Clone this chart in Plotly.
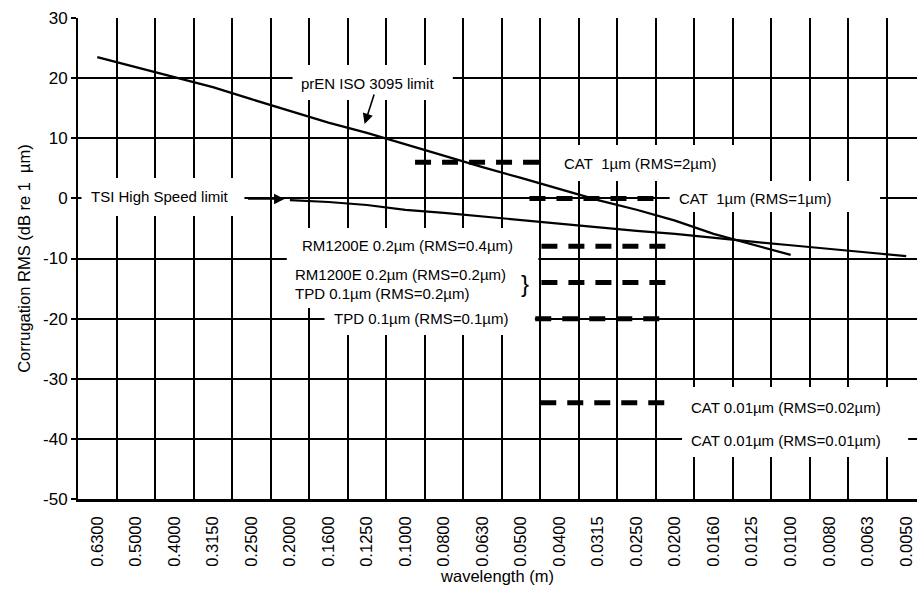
import plotly.graph_objects as go

# ---------------- data ----------------
wavelengths = ["0.6300", "0.5000", "0.4000", "0.3150", "0.2500", "0.2000",
               "0.1600", "0.1250", "0.1000", "0.0800", "0.0630", "0.0500",
               "0.0400", "0.0315", "0.0250", "0.0200", "0.0160", "0.0125",
               "0.0100", "0.0080", "0.0063", "0.0050"]

# prEN ISO 3095 limit (0.6300 ... 0.0100), dB re 1 um
iso_limit = [23.5, 21.8, 20.1, 18.5, 16.5, 14.5, 12.6, 10.9, 9.0, 7.0,
             5.2, 3.4, 1.5, -0.3, -1.9, -3.7, -5.9, -7.7, -9.4]
iso_start = "0.6300"

# TSI High Speed limit (0.2000 ... 0.0050), dB re 1 um
tsi_limit = [-0.3, -0.6, -1.1, -1.9, -2.4, -3.0, -3.6, -4.3, -4.9, -5.4,
             -5.9, -6.6, -7.2, -7.8, -8.35, -9.0, -9.6]
tsi_start = "0.2000"

# y axis ticks
y_ticks = [30, 20, 10, 0, -10, -20, -30, -40, -50]
y_tick_text = ["30", "20", "10", "0", "-10", "-20", "-30", "-40", "-50"]

# instrument resolution levels (dB re 1 um) and their wavelength spans
# (span given in wavelength-band index units)
level_names = ["CAT 1um RMS=2um", "CAT 1um RMS=1um", "RM1200E RMS=0.4um",
               "RM1200E/TPD RMS=0.2um", "TPD RMS=0.1um", "CAT 0.01um RMS=0.02um",
               "CAT 0.01um RMS=0.01um"]
level_db = [6.02, 0.0, -7.96, -13.98, -20.0, -33.98, -40.0]
level_from = [8.25, 11.22, 11.53, 11.53, 11.37, 11.5, 11.5]
level_to = [11.5, 14.52, 14.77, 14.77, 14.77, 14.75, 14.78]
level_thick = [True, True, True, True, True, True, False]

# ---------------- figure ----------------
FONT = "Liberation Sans, Arial, sans-serif"
fig = go.Figure()

x_iso0 = wavelengths.index(iso_start)
fig.add_trace(go.Scatter(
    x=list(range(x_iso0, x_iso0 + len(iso_limit))), y=iso_limit,
    mode="lines", line=dict(color="black", width=2.2), showlegend=False,
    name="prEN ISO 3095 limit"))

x_tsi0 = wavelengths.index(tsi_start)
fig.add_trace(go.Scatter(
    x=list(range(x_tsi0, x_tsi0 + len(tsi_limit))), y=tsi_limit,
    mode="lines", line=dict(color="black", width=2.2), showlegend=False,
    name="TSI High Speed limit"))

for nm, db, a, b, thick in zip(level_names, level_db, level_from, level_to, level_thick):
    fig.add_trace(go.Scatter(
        x=[a, b], y=[db, db], mode="lines", name=nm, showlegend=False,
        line=dict(color="black", width=5 if thick else 2,
                  dash="16px,11px" if thick else "13px,13px")))

# white label boxes (cover grid lines behind the labels)
boxes = [
    (5.07, 9.23, 22.18, 16.36),     # prEN ISO 3095 limit
    (-0.41, 3.82, 3.39, -2.93),     # TSI High Speed limit
    (11.69, 16.55, 8.88, 2.89),     # CAT 1um RMS=2um
    (14.86, 20.32, 2.89, -2.27),    # CAT 1um RMS=1um
    (4.92, 11.45, -4.93, -18.23),   # RM1200E / TPD 0.2
    (5.90, 11.36, -18.23, -22.72),  # TPD 0.1
    (15.18, 21.05, -31.37, -43.01), # CAT 0.01um
]
for x0, x1, y0, y1 in boxes:
    fig.add_shape(type="rect", xref="x", yref="y", x0=x0, x1=x1, y0=y0, y1=y1,
                  fillcolor="white", line=dict(width=0), layer="above")

tf = dict(family=FONT, size=15, color="black")
labels = [
    ("prEN ISO 3095 limit", 7.01, 19.19, "center"),
    ("TSI High Speed limit", 1.62, 0.23, "center"),
    ("CAT\u00a0 1µm (RMS=2µm)", 14.08, 5.88, "center"),
    ("CAT\u00a0 1µm (RMS=1µm)", 17.07, 0.06, "center"),
    ("RM1200E 0.2µm (RMS=0.4µm)", 8.05, -7.92, "center"),
    ("RM1200E 0.2µm (RMS=0.2µm)", 5.07, -12.74, "left"),
    ("TPD 0.1µm (RMS=0.2µm)", 5.07, -15.74, "left"),
    ("TPD 0.1µm (RMS=0.1µm)", 8.40, -19.9, "center"),
    ("CAT 0.01µm (RMS=0.02µm)", 15.36, -34.7, "left"),
    ("CAT 0.01µm (RMS=0.01µm)", 15.36, -40.19, "left"),
]
for txt, x, y, anc in labels:
    fig.add_annotation(x=x, y=y, xref="x", yref="y", text=txt, showarrow=False,
                       xanchor=anc, yanchor="middle", font=tf)

fig.add_annotation(x=11.1, y=-14.24, xref="x", yref="y", text="}", showarrow=False,
                   xanchor="center", yanchor="middle",
                   font=dict(family=FONT, size=24, color="black"))

# arrows
fig.add_annotation(x=6.94, y=12.37, xref="x", yref="y", text="", showarrow=True,
                   ax=10, ay=-31, arrowhead=2, arrowsize=1.3, arrowwidth=1.6,
                   arrowcolor="black")
fig.add_annotation(x=4.86, y=-0.1, xref="x", yref="y", text="", showarrow=True,
                   ax=-38, ay=0, arrowhead=2, arrowsize=1.3, arrowwidth=1.6,
                   arrowcolor="black")

fig.update_layout(
    width=917, height=591,
    margin=dict(l=78, r=0, t=18, b=92),
    plot_bgcolor="white", paper_bgcolor="white",
    font=dict(family=FONT, color="black"),
    showlegend=False,
    xaxis=dict(
        range=[-0.5, 21.28], tickmode="array",
        tickvals=list(range(len(wavelengths))), ticktext=wavelengths,
        tickangle=-90, ticks="", showgrid=False, zeroline=False,
        tickfont=dict(family=FONT, size=16.5, color="black"),
        ticklabelstandoff=8,
        minor=dict(tickvals=[k + 0.5 for k in range(len(wavelengths))],
                   showgrid=True, gridcolor="black", gridwidth=2, ticks=""),
        showline=True, linecolor="black", linewidth=2.5,
        title=dict(text="wavelength (m)", standoff=4,
                   font=dict(family=FONT, size=16.5, color="black")),
    ),
    yaxis=dict(
        range=[-50, 30], tickmode="array", tickvals=y_ticks, ticktext=y_tick_text,
        showgrid=True, gridcolor="black", gridwidth=2, zeroline=False,
        ticks="outside", ticklen=5, tickwidth=2, tickcolor="black",
        showline=True, linecolor="black", linewidth=2,
        tickfont=dict(family=FONT, size=17, color="black"),
        title=dict(text="Corrugation RMS (dB re 1\u00a0 µm)", standoff=8,
                   font=dict(family=FONT, size=16.5, color="black")),
    ),
)

fig.write_html("out.html")
